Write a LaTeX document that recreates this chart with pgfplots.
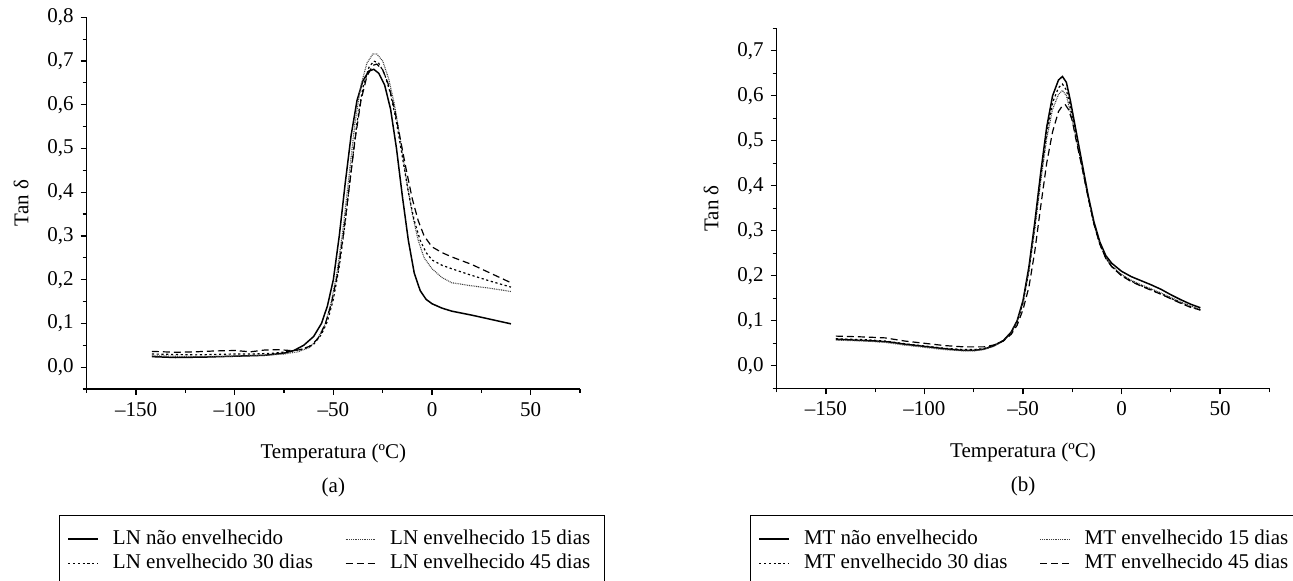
\documentclass[border=0pt]{standalone}
\usepackage{fontspec}
\setmainfont{Liberation Serif}
\usepackage{pgfplots}
\pgfplotsset{compat=1.18}

\pgfplotsset{
  dmastyle/.style={
    scale only axis,
    xmin=-175, xmax=75,
    ymin=-0.05,
    axis lines=left,
    axis line style={-, line width=0.6pt},
    every tick/.style={black, line width=0.6pt},
    tick align=outside,
    major tick length=3pt,
    minor tick length=2pt,
    xtick={-150,-100,-50,0,50},
    xticklabels={–150,–100,–50,0,50},
    minor xtick={-175,-125,-75,-25,25,75},
    tick label style={font=\fontsize{10.5}{12}\selectfont},
    label style={font=\fontsize{10.5}{12}\selectfont},
    xlabel={Temperatura (ºC)},
    ylabel={Tan δ},
    xlabel style={at={(axis description cs:0.5,0)}, anchor=center, yshift=-32pt},
    ylabel style={at={(axis description cs:-0.133,0.5)}, anchor=center},
    clip=false,
    legend columns=2,
    legend cell align=left,
    legend image code/.code={\draw[##1] (0pt,0pt) -- (15pt,0pt);},
    legend style={
      anchor=north west,
      draw=black, line width=0.5pt,
      inner xsep=4pt, inner ysep=6.5pt,
      row sep=1.5pt,
      font=\fontsize{10.5}{12}\selectfont,
      /tikz/every odd column/.append style={column sep=4pt},
      /tikz/every even column/.append style={column sep=13pt},
      nodes={inner xsep=3pt, inner ysep=0.6pt, text height=7.2pt, text depth=2.2pt},
    },
  },
  s0/.style={black, line width=0.75pt},
  s15/.style={black!75, line width=0.55pt, dash pattern=on 0.45pt off 0.45pt},
  s30/.style={black, line width=0.6pt, dash pattern=on 1.1pt off 1.3pt},
  s45/.style={black, line width=0.6pt, dash pattern=on 3.5pt off 2pt},
}

\begin{document}
\begin{tikzpicture}
\useasboundingbox (0,0) rectangle (646.5pt,290.5pt);

% (a) LN
\begin{axis}[
  dmastyle,
  at={(43.35pt,96pt)}, anchor=south west,
  width=246.65pt, height=185.85pt,
  ymax=0.8,
  ytick={0,0.1,0.2,0.3,0.4,0.5,0.6,0.7,0.8},
  yticklabels={{0,0},{0,1},{0,2},{0,3},{0,4},{0,5},{0,6},{0,7},{0,8}},
  minor ytick={-0.05,0.05,0.15,0.25,0.35,0.45,0.55,0.65,0.75},
  legend style={at={(axis description cs:-0.0562,-0.339)}},
]
\addplot[s0] coordinates {
  (-142,0.024) (-130,0.022) (-115,0.023) (-100,0.025) (-85,0.027) (-75,0.032)
  (-70,0.038) (-65,0.05) (-60,0.07) (-56,0.1) (-53,0.14) (-50,0.2) (-47,0.3)
  (-44,0.42) (-41,0.53) (-38,0.61) (-35,0.655) (-32,0.677) (-29.5,0.681)
  (-27,0.672) (-24,0.645) (-21,0.59) (-18,0.5) (-15,0.39) (-12,0.29) (-9,0.215)
  (-6,0.175) (-3,0.155) (0,0.145) (5,0.135) (10,0.128) (20,0.119) (30,0.109) (40,0.099)
};
\addlegendentry{LN não envelhecido}
\addplot[s15] coordinates {
  (-142,0.026) (-120,0.024) (-100,0.025) (-85,0.027) (-75,0.03) (-68,0.035)
  (-62,0.045) (-58,0.065) (-54,0.1) (-51,0.15) (-48,0.22) (-45,0.32) (-42,0.44)
  (-39,0.56) (-36,0.645) (-33,0.695) (-30,0.716) (-28,0.716) (-25,0.7) (-22,0.66)
  (-19,0.6) (-16,0.52) (-13,0.43) (-10,0.35) (-7,0.29) (-4,0.25) (0,0.225)
  (5,0.205) (10,0.193) (20,0.186) (30,0.18) (40,0.173)
};
\addlegendentry{LN envelhecido 15 dias}
\addplot[s30] coordinates {
  (-142,0.03) (-120,0.028) (-100,0.03) (-90,0.03) (-80,0.032) (-72,0.036)
  (-65,0.042) (-60,0.052) (-56,0.075) (-53,0.105) (-50,0.155) (-47,0.23)
  (-44,0.33) (-41,0.45) (-38,0.56) (-35,0.64) (-32,0.685) (-29.5,0.7) (-27,0.695)
  (-24,0.67) (-21,0.625) (-18,0.56) (-15,0.48) (-12,0.4) (-9,0.335) (-6,0.29)
  (-3,0.262) (0,0.245) (5,0.233) (10,0.225) (20,0.21) (30,0.196) (40,0.183)
};
\addlegendentry{LN envelhecido 30 dias}
\addplot[s45] coordinates {
  (-142,0.036) (-130,0.034) (-120,0.035) (-110,0.037) (-100,0.038) (-92,0.035)
  (-85,0.039) (-78,0.04) (-72,0.038) (-66,0.04) (-61,0.05) (-57,0.07) (-54,0.1)
  (-51,0.145) (-48,0.21) (-45,0.3) (-42,0.41) (-39,0.52) (-36,0.61) (-33,0.665)
  (-30,0.69) (-28,0.693) (-25,0.68) (-22,0.645) (-19,0.59) (-16,0.52) (-13,0.45)
  (-10,0.385) (-7,0.335) (-4,0.3) (0,0.275) (5,0.262) (10,0.252) (20,0.235)
  (30,0.214) (40,0.193)
};
\addlegendentry{LN envelhecido 45 dias}
\node[font=\fontsize{10.5}{12}\selectfont] at (rel axis cs:0.5,0) [yshift=-49pt] {(a)};
\end{axis}

% (b) MT
\begin{axis}[
  dmastyle,
  at={(388.35pt,96.35pt)}, anchor=south west,
  width=246.3pt, height=180pt,
  ymax=0.75,
  ytick={0,0.1,0.2,0.3,0.4,0.5,0.6,0.7},
  yticklabels={{0,0},{0,1},{0,2},{0,3},{0,4},{0,5},{0,6},{0,7}},
  minor ytick={-0.05,0.05,0.15,0.25,0.35,0.45,0.55,0.65,0.75},
  legend style={at={(axis description cs:-0.0542,-0.352)}},
]
\addplot[s0] coordinates {
  (-145,0.059) (-135,0.057) (-125,0.055) (-118,0.053) (-110,0.048) (-100,0.043)
  (-90,0.038) (-80,0.034) (-75,0.034) (-70,0.037) (-65,0.044) (-60,0.056)
  (-56,0.075) (-53,0.1) (-50,0.145) (-47,0.22) (-44,0.32) (-41,0.43) (-38,0.53)
  (-35,0.6) (-32,0.635) (-30,0.643) (-28,0.63) (-26,0.59) (-23,0.52) (-20,0.45)
  (-17,0.38) (-14,0.32) (-11,0.275) (-8,0.245) (-5,0.228) (0,0.21) (5,0.198)
  (10,0.189) (15,0.18) (20,0.17) (25,0.158) (30,0.147) (35,0.137) (40,0.129)
};
\addlegendentry{MT não envelhecido}
\addplot[s15] coordinates {
  (-145,0.057) (-130,0.055) (-120,0.052) (-110,0.046) (-100,0.041) (-90,0.036)
  (-80,0.033) (-75,0.033) (-70,0.036) (-65,0.043) (-60,0.055) (-56,0.073)
  (-53,0.097) (-50,0.14) (-47,0.21) (-44,0.305) (-41,0.41) (-38,0.505) (-35,0.57)
  (-32,0.603) (-30,0.612) (-28,0.6) (-26,0.565) (-23,0.505) (-20,0.44) (-17,0.375)
  (-14,0.315) (-11,0.27) (-8,0.24) (-5,0.222) (0,0.203) (5,0.19) (10,0.18)
  (15,0.171) (20,0.162) (25,0.152) (30,0.142) (35,0.133) (40,0.126)
};
\addlegendentry{MT envelhecido 15 dias}
\addplot[s30] coordinates {
  (-145,0.06) (-130,0.058) (-120,0.055) (-110,0.049) (-100,0.044) (-90,0.039)
  (-80,0.036) (-75,0.036) (-70,0.038) (-65,0.045) (-60,0.056) (-56,0.073)
  (-53,0.097) (-50,0.14) (-47,0.212) (-44,0.31) (-41,0.42) (-38,0.515) (-35,0.585)
  (-32,0.618) (-30,0.626) (-28,0.613) (-26,0.575) (-23,0.51) (-20,0.443) (-17,0.377)
  (-14,0.316) (-11,0.27) (-8,0.24) (-5,0.221) (0,0.201) (5,0.188) (10,0.178)
  (15,0.169) (20,0.16) (25,0.15) (30,0.14) (35,0.131) (40,0.124)
};
\addlegendentry{MT envelhecido 30 dias}
\addplot[s45] coordinates {
  (-145,0.066) (-130,0.064) (-120,0.062) (-110,0.055) (-100,0.05) (-90,0.045)
  (-80,0.042) (-70,0.042) (-65,0.046) (-60,0.055) (-56,0.07) (-53,0.09)
  (-50,0.125) (-47,0.175) (-44,0.255) (-41,0.355) (-38,0.45) (-35,0.52)
  (-32,0.565) (-30,0.578) (-28.5,0.58) (-27,0.57) (-25,0.545) (-23,0.5) (-20,0.44)
  (-17,0.375) (-14,0.315) (-11,0.27) (-8,0.239) (-5,0.22) (0,0.2) (5,0.187)
  (10,0.177) (15,0.168) (20,0.159) (25,0.149) (30,0.139) (35,0.13) (40,0.124)
};
\addlegendentry{MT envelhecido 45 dias}
\node[font=\fontsize{10.5}{12}\selectfont] at (rel axis cs:0.5,0) [yshift=-49pt] {(b)};
\end{axis}
\end{tikzpicture}
\end{document}
